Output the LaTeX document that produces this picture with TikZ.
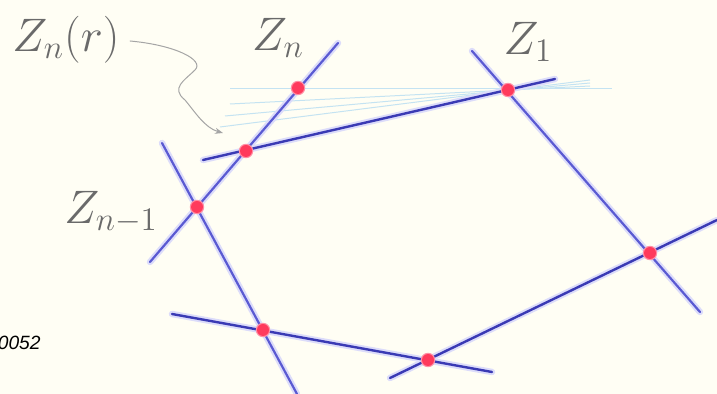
\RequirePackage{fix-cm}
\documentclass[tikz,border=0pt]{standalone}
\usepackage{fontspec}
\newfontfamily\labelsans{Liberation Sans}
\usetikzlibrary{arrows.meta}
\definecolor{bgcream}{HTML}{FFFEF4}
\definecolor{lineblue}{HTML}{5A5AD2}
\definecolor{darkblue}{HTML}{3A3AB4}
\definecolor{halo}{HTML}{DCDCFA}
\definecolor{dotred}{HTML}{FF3A5C}
\definecolor{dothalo}{HTML}{FF8FA5}
\definecolor{paleblue}{HTML}{C4E3F2}
\definecolor{labelgray}{HTML}{6A6A6A}
\tikzset{
  haloline/.style={halo, line width=3.2pt, line cap=round},
  bline/.style={lineblue, line width=1.1pt, line cap=round},
  dline/.style={darkblue, line width=1.2pt, line cap=round},
  paleline/.style={paleblue, line width=0.5pt},
  vertex/.style={circle, fill=dotred, inner sep=0pt, minimum size=6pt,
    preaction={draw=dothalo, line width=1.2pt}},
  zlabel/.style={text=labelgray, font=\fontsize{23.5}{28}\selectfont, inner sep=0pt},
}
\begin{document}
\begin{tikzpicture}[x=0.5pt, y=-0.5pt]
\fill[bgcream] (0,0) rectangle (717,394);
\useasboundingbox (0,0) rectangle (717,394);
% endpoints of lines
\coordinate (a1) at (338,43);  \coordinate (a2) at (150,262);
\coordinate (b1) at (203,160); \coordinate (b2) at (555,79);
\coordinate (c1) at (472,51);  \coordinate (c2) at (700,312);
\coordinate (d1) at (717,220); \coordinate (d2) at (390,378);
\coordinate (e1) at (172,314); \coordinate (e2) at (492,372);
\coordinate (f1) at (162,143); \coordinate (f2) at (297,394);
% pale rotating lines
\coordinate (p1) at (230,89);  \coordinate (p2) at (612,89);
\coordinate (q1) at (230,104); \coordinate (q2) at (590,86);
\coordinate (r1) at (225,116); \coordinate (r2) at (590,83);
\coordinate (s1) at (220,127); \coordinate (s2) at (590,80);
\draw[paleline] (p1) -- (p2);
\draw[paleline] (q1) -- (q2);
\draw[paleline] (r1) -- (r2);
\draw[paleline] (s1) -- (s2);
% halos
\foreach \u/\v in {a1/a2,b1/b2,c1/c2,d1/d2,e1/e2,f1/f2}
  \draw[haloline] (\u) -- (\v);
% lines
\draw[bline] (a1) -- (a2);
\draw[dline] (b1) -- (b2);
\draw[bline] (c1) -- (c2);
\draw[dline] (d1) -- (d2);
\draw[dline] (e1) -- (e2);
\draw[bline] (f1) -- (f2);
% vertices
\node[vertex] (zn) at (298,88) {};
\node[vertex] (znr) at (246,151) {};
\node[vertex] (znm1) at (197,207) {};
\node[vertex] (v4) at (263,330) {};
\node[vertex] (v5) at (428,360) {};
\node[vertex] (v6) at (650,253) {};
\node[vertex] (z1) at (508,90) {};
% labels
\node[zlabel] (lznr) at (66,40) {$Z_n(r)$};
\node[zlabel] (lzn) at (278,38) {$Z_n$};
\node[zlabel] (lz1) at (528,42) {$Z_1$};
\node[zlabel] (lznm1) at (111,212) {$Z_{n-1}$};
\node[anchor=east, inner sep=0pt, font=\labelsans\itshape\fontsize{9.6}{11}\selectfont] (num) at (41,343) {0052};
% curved pointer
\coordinate (tip) at (223,133);
\draw[labelgray!60, line width=0.5pt, -{Stealth[length=4pt,width=3pt]}]
  (lznr.east) ++(10,1) .. controls (175,45) and (205,60) .. (195,70)
  .. controls (185,80) and (170,88) .. (185,100)
  .. controls (195,112) and (205,128) .. (tip);
\end{tikzpicture}
\end{document}
